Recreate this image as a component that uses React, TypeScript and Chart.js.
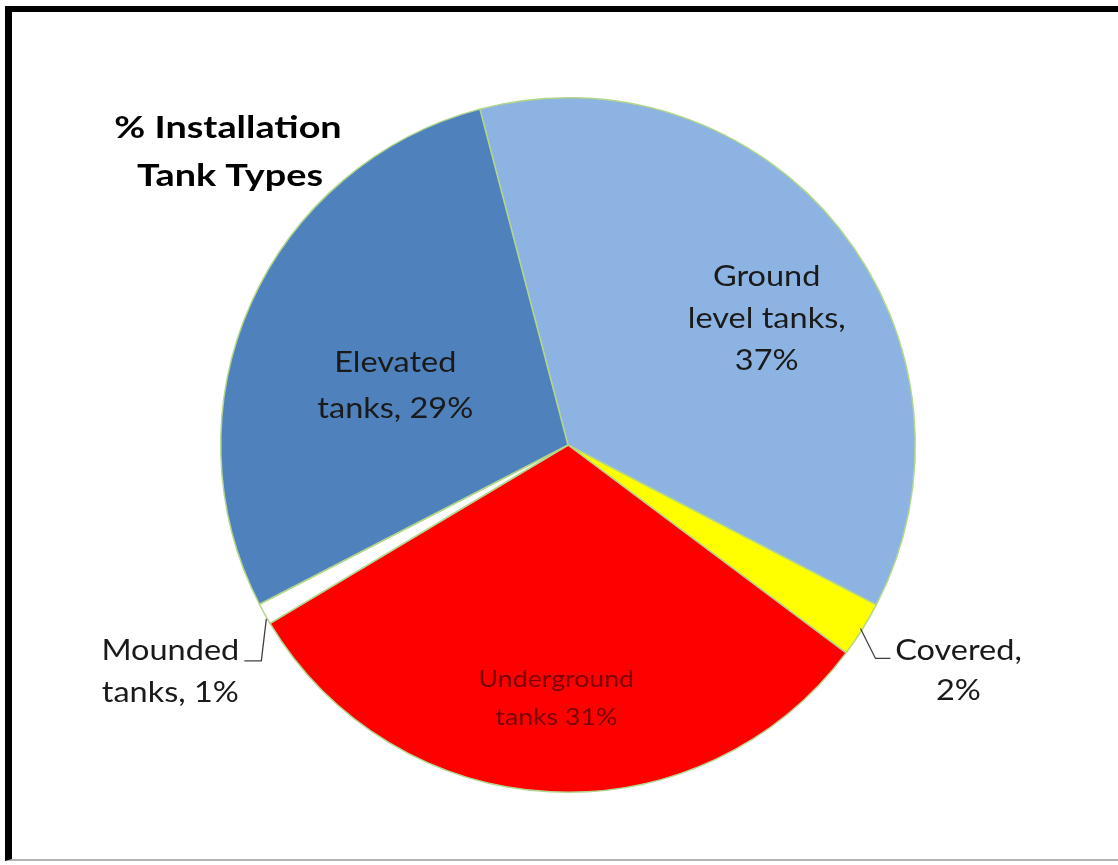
import React, { useEffect, useRef } from "react";
import { Chart, registerables } from "chart.js";

Chart.register(...registerables);

const categories = ["Ground level tanks", "Covered", "Underground tanks", "Mounded tanks", "Elevated tanks"];
const values = [36.7, 2.6, 31.2, 1.0, 28.5];
const labelLines = [
  ["Ground", "level tanks,", "37%"],
  ["Covered,", "2%"],
  ["Underground", "tanks 31%"],
  ["Mounded", "tanks, 1%"],
  ["Elevated", "tanks, 29%"],
];
const titleLines = ["% Installation", "Tank Types"];
const colors = ["#8db3e2", "#ffff00", "#ff0000", "#ffffff", "#4f81bd"];

const FONT = "Lato, 'Open Sans', sans-serif";

// per-slice label layout: inside labels use radius fraction & angle offset (deg)
const layout: any[] = [
  { kind: "in", frac: 0.678, dAng: 6.2, size: 28, lh: 42, color: "#1a1a1a" },
  { kind: "out", side: "right", size: 28, lh: 40, color: "#1a1a1a" },
  { kind: "in", frac: 0.73, dAng: -0.3, size: 23, lh: 38, color: "#7a0000" },
  { kind: "out", side: "left", size: 28, lh: 42, color: "#1a1a1a" },
  { kind: "in", frac: 0.526, dAng: -5, size: 28, lh: 46, color: "#1a1a1a" },
];

function stretchText(ctx: any, t: string, x: number, y: number, sx: number) {
  ctx.save();
  ctx.translate(x, y);
  ctx.scale(sx, 1);
  ctx.fillText(t, 0, 0);
  ctx.restore();
}

const labelPlugin = {
  id: "sliceLabels",
  afterDraw(chart: any) {
    const ctx = chart.ctx;
    const meta = chart.getDatasetMeta(0);
    ctx.save();
    meta.data.forEach((arc: any, i: number) => {
      const { x, y, startAngle, endAngle, outerRadius } = arc.getProps(
        ["x", "y", "startAngle", "endAngle", "outerRadius"],
        true
      );
      const mid = (startAngle + endAngle) / 2;
      const L = layout[i];
      const lines = labelLines[i];
      ctx.fillStyle = L.color;
      ctx.font = `${L.size}px ${FONT}`;
      ctx.textAlign = "center";
      ctx.textBaseline = "middle";
      const sx = 1.16;
      if (L.kind === "in") {
        const a = mid + (L.dAng * Math.PI) / 180;
        const r = outerRadius * L.frac;
        const cx = x + r * Math.cos(a);
        const cy = y + r * Math.sin(a);
        const top = cy - ((lines.length - 1) * L.lh) / 2;
        lines.forEach((t: string, k: number) => stretchText(ctx, t, cx, top + k * L.lh, sx));
      } else {
        const ex = x + (outerRadius - 2) * Math.cos(mid);
        const ey = y + (outerRadius - 2) * Math.sin(mid);
        ctx.strokeStyle = "#404040";
        ctx.lineWidth = 1.3;
        ctx.beginPath();
        let cx, cy;
        if (L.side === "right") {
          ctx.moveTo(ex, ey);
          ctx.lineTo(ex + 15, ey + 30);
          ctx.lineTo(ex + 30, ey + 30);
          cx = ex + 98;
          cy = ey + 43;
        } else {
          ctx.moveTo(ex, ey + 6);
          ctx.lineTo(ex - 5, ey + 48);
          ctx.lineTo(ex - 22, ey + 48);
          cx = ex - 96;
          cy = ey + 59;
        }
        ctx.stroke();
        const top = cy - ((lines.length - 1) * L.lh) / 2;
        lines.forEach((t: string, k: number) => stretchText(ctx, t, cx, top + k * L.lh, sx));
      }
    });
    // title
    ctx.fillStyle = "#000000";
    ctx.font = `bold 30px ${FONT}`;
    ctx.textAlign = "center";
    ctx.textBaseline = "middle";
    stretchText(ctx, titleLines[0], 228, 128, 1.26);
    stretchText(ctx, titleLines[1], 230, 176, 1.26);
    ctx.restore();
  },
};

export default function App() {
  const ref = useRef<HTMLCanvasElement>(null);
  useEffect(() => {
    const chart = new Chart(ref.current!, {
      type: "pie",
      data: {
        labels: categories,
        datasets: [
          {
            data: values,
            backgroundColor: colors,
            borderColor: "#b2d68c",
            borderWidth: 1.5,
          },
        ],
      },
      options: {
        responsive: false,
        animation: false,
        rotation: -14.7,
        layout: { padding: { left: 220, right: 202, top: 97, bottom: 72 } },
        plugins: {
          legend: { display: false },
          tooltip: { enabled: false },
          title: { display: false },
        },
      },
      plugins: [labelPlugin],
    });
    return () => chart.destroy();
  }, []);
  return (
    <div style={{ position: "absolute", left: 0, top: 0, width: 1118, height: 865, background: "#fff", overflow: "hidden" }}>
      <div
        style={{
          position: "absolute",
          left: 5,
          top: 6,
          width: 1200,
          height: 855,
          borderLeft: "7px solid #000",
          borderTop: "6px solid #000",
          borderBottom: "2px solid #b4b4b4",
          boxSizing: "border-box",
        }}
      />
      <canvas ref={ref} width={1118} height={865} style={{ position: "absolute", left: 0, top: 0 }} />
    </div>
  );
}
